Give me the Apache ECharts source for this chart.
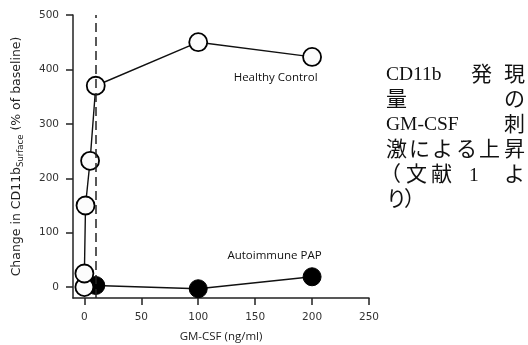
<!DOCTYPE html>
<html><head><meta charset="utf-8">
<script src="https://cdn.jsdelivr.net/npm/echarts@6/dist/echarts.min.js"></script>
<style>html,body{margin:0;padding:0;background:#fff}#c{width:528px;height:345px}</style>
</head><body><div id="c"></div>
<script>
// Data
const healthyDose = [0, 0, 1, 5, 10, 100, 200];
const healthyVal  = [0, 25, 150, 232, 370, 450, 423];
const papDose = [10, 100, 200];
const papVal  = [3, -3, 19];
const xTicks = [0, 50, 100, 150, 200, 250];
const yTicks = [0, 100, 200, 300, 400, 500];
const thresholdDose = 10;

const chart = echarts.init(document.getElementById('c'), null, {renderer: 'canvas'});
const fam = '"Liberation Serif", "Noto Sans CJK JP", serif';
function tok(text, x, y, align, size) {
  return {type: 'text', x: x, y: y, style: {text: text, textAlign: align || 'left', textVerticalAlign: 'middle', fontSize: size || 21, fontFamily: fam, fill: '#111'}};
}
const L = 386, R = 525, y0 = 75, lh = 25;
const graphics = [
  tok('CD11b', L, y0, 'left', 19.5), tok('発', 471, y0), tok('現', R, y0, 'right'),
  tok('量', L, y0 + lh), tok('の', R, y0 + lh, 'right'),
  tok('GM-CSF', L, y0 + 2*lh, 'left', 19.5), tok('刺', R, y0 + 2*lh, 'right'),
  tok('激', L, y0 + 3*lh), tok('に', 409, y0 + 3*lh), tok('よ', 432, y0 + 3*lh), tok('る', 456, y0 + 3*lh), tok('上', 479, y0 + 3*lh), tok('昇', R, y0 + 3*lh, 'right'),
  tok('（', L - 6, y0 + 4*lh), tok('文', 406, y0 + 4*lh), tok('献', 431, y0 + 4*lh), tok('1', 469, y0 + 4*lh + 1, 'left', 19.5), tok('よ', R, y0 + 4*lh, 'right'),
  tok('り', L, y0 + 5*lh), tok('）', 404, y0 + 5*lh)
];

const axisColor = '#222';
chart.setOption({
  animation: false,
  grid: {left: 73, right: 159, top: 15, bottom: 47, containLabel: false, outerBoundsMode: 'none'},
  xAxis: {
    type: 'value', min: -10, max: 250,
    name: 'GM-CSF (ng/ml)', nameLocation: 'middle', nameGap: 33,
    nameTextStyle: {fontFamily: '"Open Sans", sans-serif', fontSize: 11.5, color: '#222'},
    axisLine: {show: true, onZero: false, lineStyle: {color: axisColor, width: 1.5}},
    axisTick: {show: true, length: 7, customValues: xTicks, lineStyle: {color: axisColor, width: 1.5}},
    axisLabel: {customValues: xTicks, margin: 14, fontFamily: '"DejaVu Sans", sans-serif', fontSize: 10.5, color: '#333'},
    splitLine: {show: false}
  },
  yAxis: {
    type: 'value', min: -20, max: 500,
    name: '{a|Change in CD11b}{s|Surface}{a| (% of baseline)}',
    nameLocation: 'middle', nameGap: 48, nameRotate: 90,
    nameTextStyle: {
      rich: {
        a: {fontFamily: '"DejaVu Sans", sans-serif', fontSize: 12.5, color: '#222', lineHeight: 17, verticalAlign: 'middle'},
        s: {fontFamily: '"DejaVu Sans", sans-serif', fontSize: 8.5, color: '#222', lineHeight: 17, verticalAlign: 'bottom', padding: [6, 0, 0, 0]}
      }
    },
    axisLine: {show: true, onZero: false, lineStyle: {color: axisColor, width: 1.5}},
    axisTick: {show: true, length: 7, customValues: yTicks, lineStyle: {color: axisColor, width: 1.5}},
    axisLabel: {customValues: yTicks, margin: 14, fontFamily: '"DejaVu Sans", sans-serif', fontSize: 10.5, color: '#333'},
    splitLine: {show: false}
  },
  series: [
    {
      type: 'line', name: 'Autoimmune PAP',
      data: papDose.map((d, i) => [d, papVal[i]]),
      symbol: 'circle', symbolSize: 18,
      lineStyle: {color: '#111', width: 1.4},
      itemStyle: {color: '#000', borderColor: '#000', borderWidth: 1},
      markPoint: {
        symbol: 'circle', symbolSize: 0, silent: true,
        data: [{coord: [167, 57], value: 'Autoimmune PAP'}],
        label: {show: true, position: 'inside', formatter: 'Autoimmune PAP', fontFamily: '"Open Sans", sans-serif', fontSize: 11.5, color: '#111'}
      },
      z: 2
    },
    {
      type: 'line', name: 'Healthy Control',
      data: healthyDose.map((d, i) => [d, healthyVal[i]]),
      symbol: 'circle', symbolSize: 18,
      lineStyle: {color: '#111', width: 1.4},
      itemStyle: {color: '#fcfcfc', borderColor: '#000', borderWidth: 1.8},
      markLine: {
        silent: true, symbol: 'none',
        label: {show: false},
        lineStyle: {color: '#222', width: 1.5, type: [9, 5]},
        data: [{xAxis: thresholdDose}]
      },
      markPoint: {
        symbol: 'circle', symbolSize: 0, silent: true,
        data: [{coord: [168, 385], value: 'Healthy Control'}],
        label: {show: true, position: 'inside', formatter: 'Healthy Control', fontFamily: '"Open Sans", sans-serif', fontSize: 11.5, color: '#111'}
      },
      z: 3
    }
  ],
  graphic: graphics
});
</script></body></html>
